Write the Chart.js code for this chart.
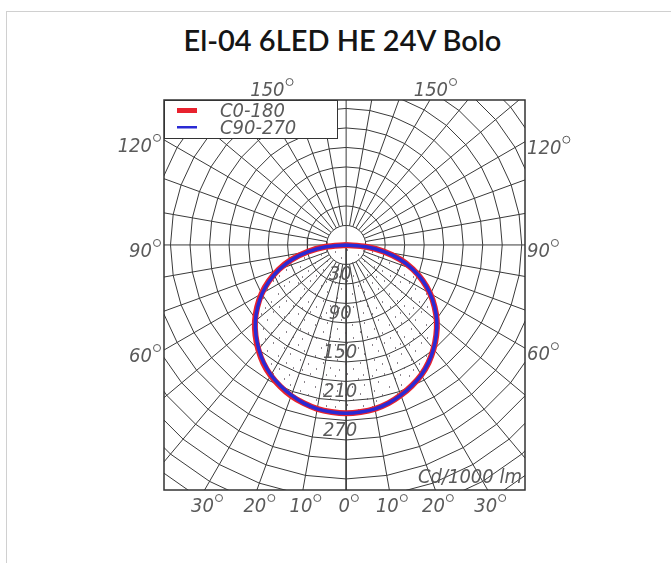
<!DOCTYPE html>
<html>
<head>
<meta charset="utf-8">
<script src="https://cdn.jsdelivr.net/npm/chart.js@4.4.1/dist/chart.umd.min.js"></script>
<style>
  html, body { margin: 0; padding: 0; background: #fff; }
  #card { position: absolute; left: 6px; top: 11px; width: 720px; height: 620px; border: 1px solid #d0d0d0; box-sizing: border-box; }
  #title { position: absolute; left: 0; top: 22px; width: 685px; text-align: center; font: 600 29px Lato, "Noto Sans", sans-serif; color: #151515; }
  #wrap { position: absolute; left: 0; top: 0; width: 671px; height: 563px; }
</style>
</head>
<body>
<div id="card"></div>
<div id="title">El-04 6LED HE 24V Bolo</div>
<div id="wrap"><canvas id="chart" width="671" height="563"></canvas></div>
<script>
// gamma angles (deg from nadir) and intensities in cd/1000 lm
const gammaAngles = [0, 5, 10, 15, 20, 25, 30, 35, 40, 45, 50, 55, 60, 65, 70, 75, 80, 85, 90];
const c0Values   = [259, 258, 256, 252, 246, 239, 231, 221, 209, 196, 182, 166, 149, 130, 109, 86, 59, 31, 0];
const c180Values = [259, 258, 256, 252, 247, 240, 232, 222, 210, 197, 183, 167, 150, 131, 110, 87, 60, 32, 0];
const c90Values  = [259, 258, 256, 252, 246, 239, 231, 221, 209, 196, 182, 166, 149, 130, 109, 86, 59, 31, 0];
const c270Values = [259, 258, 256, 252, 246, 239, 231, 221, 209, 196, 182, 166, 149, 130, 109, 86, 59, 31, 0];

// grid
const ringValues = [30, 60, 90, 120, 150, 180, 210, 240, 270, 300, 330, 360, 390, 420, 450, 480];
const ringLabels = [30, 90, 150, 210, 270];
const spokeAngles = [0, 10, 20, 30, 40, 50, 60, 70, 80, 90, 100, 110, 120, 130, 140, 150, 160, 170,
                     180, 190, 200, 210, 220, 230, 240, 250, 260, 270, 280, 290, 300, 310, 320, 330, 340, 350];
const sideAngleLabels = [60, 90, 120];
const topAngleLabels = [150];
const bottomAngleLabels = [30, 20, 10, 0, 10, 20, 30];
const bottomAngleSigns = [-1, -1, -1, 0, 1, 1, 1];
const seriesNames = ['C0-180', 'C90-270'];
const unitLabel = 'Cd/1000 lm';

const rad = d => d * Math.PI / 180;
// gamma measured from straight down, positive to the right
const polar = (g, r) => ({ x: r * Math.sin(rad(g)), y: -r * Math.cos(rad(g)) });

function planeCurve(leftVals, rightVals) {
  const pts = [];
  for (let i = gammaAngles.length - 1; i >= 0; i--) pts.push(polar(-gammaAngles[i], leftVals[i]));
  for (let i = 1; i < gammaAngles.length; i++) pts.push(polar(gammaAngles[i], rightVals[i]));
  return pts;
}

const GRID = '#3a3a3a';
const datasets = [];

datasets.push({ label: seriesNames[1], data: planeCurve(c270Values, c90Values), showLine: true, pointRadius: 0,
  borderColor: '#2a2ad4', borderWidth: 3.5, tension: 0.3, order: 0 });
datasets.push({ label: seriesNames[0], data: planeCurve(c180Values, c0Values), showLine: true, pointRadius: 0,
  borderColor: '#e8222e', borderWidth: 6, tension: 0.3, order: 1 });

ringValues.forEach(r => {
  const pts = [];
  for (let a = 0; a <= 360; a += 10) pts.push(polar(a, r));
  datasets.push({ data: pts, showLine: true, pointRadius: 0, borderColor: GRID, borderWidth: 1, order: 10, clip: 0 });
});
spokeAngles.forEach(a => {
  const inner = a % 90 === 0 ? 0 : ringValues[0];
  datasets.push({ data: [polar(a, inner), polar(a, 700)], showLine: true, pointRadius: 0,
    borderColor: GRID, borderWidth: 1, order: 10, clip: 0 });
});

// stipple tile for the lit area
const tile = document.createElement('canvas');
tile.width = 37; tile.height = 31;
const tctx = tile.getContext('2d');
tctx.fillStyle = 'rgba(90,80,90,0.7)';
[[2, 3], [14, 1], [8, 9], [25, 6], [31, 12], [19, 14], [4, 18], [12, 22], [27, 21],
 [34, 26], [20, 27], [6, 28], [30, 2]].forEach(([x, y]) => tctx.fillRect(x, y, 1, 2));

const LABEL_FONT = 'italic 20px "Liberation Sans Narrow", "DejaVu Sans Condensed", sans-serif';
const LABEL_COLOR = '#5a5a5a';

function degText(ctx, text, x, y, align) {
  ctx.font = LABEL_FONT;
  const w = ctx.measureText(text).width;
  const total = w + 10;
  const x0 = align === 'left' ? x : align === 'right' ? x - total : x - total / 2;
  ctx.textAlign = 'left';
  ctx.fillText(text, x0, y);
  ctx.beginPath();
  ctx.arc(x0 + w + 5, y - 14, 3.5, 0, 2 * Math.PI);
  ctx.stroke();
}

const diagramPlugin = {
  id: 'diagram',
  beforeDatasetDraw(chart, args) {
    if (args.index !== 1) return;
    const pts = chart.getDatasetMeta(1).data;
    const ctx = chart.ctx;
    ctx.save();
    ctx.beginPath();
    pts.forEach((p, i) => i ? ctx.lineTo(p.x, p.y) : ctx.moveTo(p.x, p.y));
    ctx.closePath();
    ctx.fillStyle = ctx.createPattern(tile, 'repeat');
    ctx.fill();
    ctx.restore();
  },
  afterDatasetsDraw(chart) {
    const { ctx, chartArea: ca, scales: { x, y } } = chart;
    const cx = x.getPixelForValue(0);
    ctx.save();
    // frame
    ctx.strokeStyle = '#333';
    ctx.lineWidth = 1.5;
    ctx.strokeRect(ca.left, ca.top, ca.right - ca.left, ca.bottom - ca.top);

    ctx.fillStyle = LABEL_COLOR;
    ctx.strokeStyle = LABEL_COLOR;
    ctx.lineWidth = 1;
    ctx.textBaseline = 'alphabetic';

    // side labels where spokes leave the frame
    sideAngleLabels.forEach(g => {
      const s = Math.sin(rad(g)), c = Math.cos(rad(g));
      const yl = -x.min / s * -c;
      degText(ctx, String(g), ca.left - 2, y.getPixelForValue(yl) + 12, 'right');
      const yr = x.max / s * -c;
      degText(ctx, String(g), ca.right + 2, y.getPixelForValue(yr) + 12, 'left');
    });
    topAngleLabels.forEach(g => {
      const s = Math.sin(rad(g)), c = Math.cos(rad(g));
      const t = y.max / -c;
      degText(ctx, String(g), x.getPixelForValue(-t * s) + 10, ca.top - 4, 'center');
      degText(ctx, String(g), x.getPixelForValue(t * s) + 6, ca.top - 4, 'center');
    });
    bottomAngleLabels.forEach((g, i) => {
      const xv = bottomAngleSigns[i] * -y.min * Math.tan(rad(g));
      degText(ctx, String(g), x.getPixelForValue(xv) + 3, ca.bottom + 22, 'center');
    });

    // ring values
    ctx.font = LABEL_FONT;
    ctx.textAlign = 'center';
    ringLabels.forEach(r => {
      ctx.fillText(String(r), cx - 6, y.getPixelForValue(-r) + 16);
    });
    ctx.textAlign = 'right';
    ctx.fillText(unitLabel, ca.right - 3, ca.bottom - 7);

    // legend box
    const lx = ca.left, ly = ca.top, lw = 173, lh = 38;
    ctx.fillStyle = '#fff';
    ctx.fillRect(lx, ly, lw, lh);
    ctx.strokeStyle = '#333';
    ctx.lineWidth = 1;
    ctx.strokeRect(lx + 0.5, ly + 0.5, lw, lh);
    ctx.fillStyle = chart.data.datasets[1].borderColor;
    ctx.fillRect(lx + 13, ly + 8, 20, 5);
    ctx.fillStyle = chart.data.datasets[0].borderColor;
    ctx.fillRect(lx + 13, ly + 26, 20, 2.5);
    ctx.fillStyle = LABEL_COLOR;
    ctx.textAlign = 'left';
    ctx.fillText(seriesNames[0], lx + 56, ly + 17);
    ctx.fillText(seriesNames[1], lx + 56, ly + 34);
    ctx.restore();
  }
};

new Chart(document.getElementById('chart'), {
  type: 'scatter',
  data: { datasets },
  options: {
    responsive: false,
    animation: false,
    events: [],
    layout: { padding: { left: 164, right: 146, top: 100, bottom: 73 } },
    scales: {
      x: { type: 'linear', display: false, min: -280, max: 275 },
      y: { type: 'linear', display: false, min: -377, max: 223 }
    },
    plugins: { legend: { display: false }, tooltip: { enabled: false } }
  },
  plugins: [diagramPlugin]
});
</script>
</body>
</html>
